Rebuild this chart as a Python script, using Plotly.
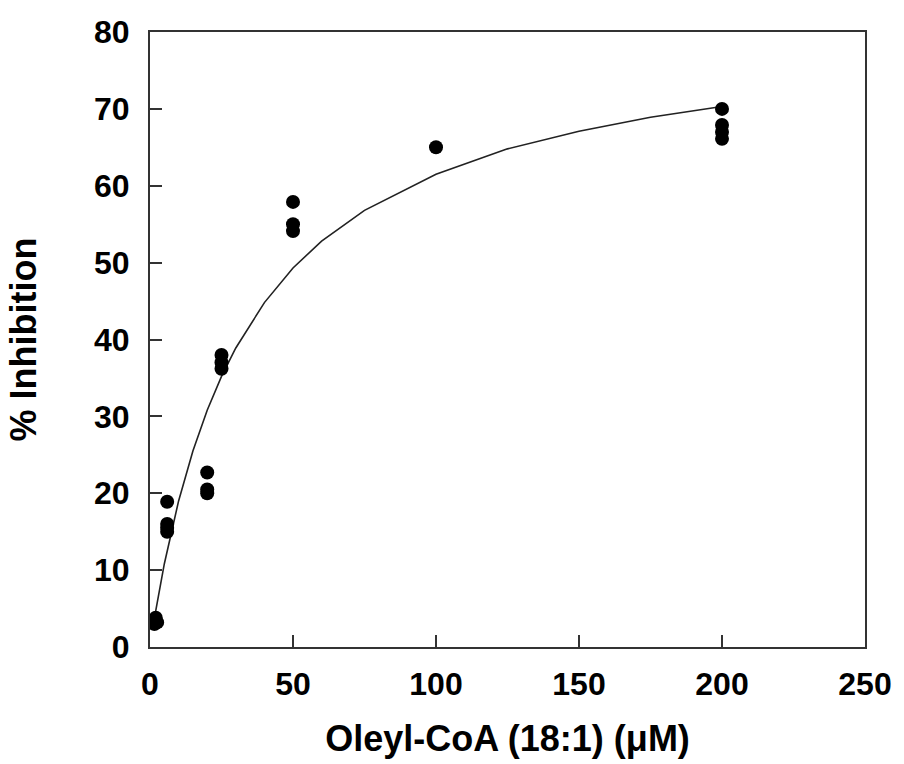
import plotly.graph_objects as go

# Measured data points (Oleyl-CoA uM, % inhibition)
conc = [1.5, 2.5, 2, 6, 6, 6, 6, 20, 20, 20, 25, 25, 25, 50, 50, 50, 100, 200, 200, 200, 200]
inhib = [3.0, 3.2, 3.8, 18.9, 15.0, 15.5, 16.0, 22.7, 20.5, 20.0, 38.0, 37.0, 36.2,
         57.9, 55.0, 54.1, 65.0, 70.0, 67.9, 67.0, 66.1]

# Fitted curve
curve_x = [1, 2, 5, 10, 15, 20, 25, 30, 40, 50, 60, 75, 100, 125, 150, 175, 200]
curve_y = [2.4, 4.7, 10.8, 19.0, 25.5, 30.8, 35.2, 38.9, 44.8, 49.3, 52.8, 56.8,
           61.5, 64.8, 67.1, 68.9, 70.3]

x_ticks = [0, 50, 100, 150, 200, 250]
y_ticks = [0, 10, 20, 30, 40, 50, 60, 70, 80]

font_family = "Liberation Sans, Arial, sans-serif"

fig = go.Figure()
fig.add_trace(go.Scatter(
    x=curve_x, y=curve_y, mode="lines",
    line=dict(color="#222222", width=1.6),
    showlegend=False, hoverinfo="skip",
))
fig.add_trace(go.Scatter(
    x=conc, y=inhib, mode="markers",
    marker=dict(color="black", size=14, line=dict(width=0)),
    showlegend=False,
))

axis_common = dict(
    showgrid=False, zeroline=False, showline=True, mirror=True,
    linecolor="#333333", linewidth=2,
    ticks="inside", ticklen=12, tickwidth=2, tickcolor="#333333",
    tickfont=dict(family=font_family, size=32, color="black", weight="bold"),
)

fig.update_layout(
    width=904, height=764,
    margin=dict(l=150, r=32, t=32, b=112),
    paper_bgcolor="white", plot_bgcolor="white",
    font=dict(family=font_family, color="black"),
    xaxis=dict(
        range=[0, 250], tickvals=x_ticks, ticktext=[str(v) for v in x_ticks],
        ticklabelstandoff=8,
        title=dict(text="<b>Oleyl-CoA (18:1) (μM)</b>",
                   font=dict(family=font_family, size=36, color="black"),
                   standoff=24),
        **axis_common,
    ),
    yaxis=dict(
        range=[0, 80], tickvals=y_ticks, ticktext=[str(v) for v in y_ticks],
        ticklabelstandoff=12,
        title=dict(text="<b>% Inhibition</b>",
                   font=dict(family=font_family, size=36, color="black"),
                   standoff=46),
        **axis_common,
    ),
)

fig.write_html("out.html")
